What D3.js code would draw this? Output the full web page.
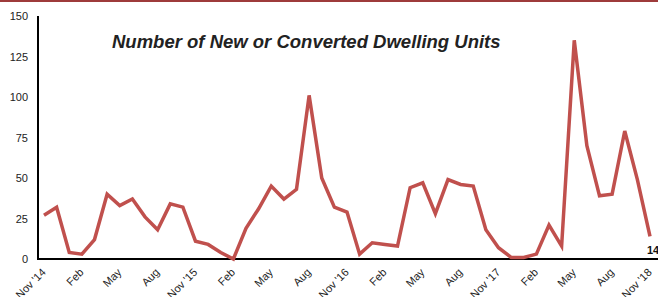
<!DOCTYPE html>
<html><head><meta charset="utf-8">
<script src="https://cdn.jsdelivr.net/npm/d3@7"></script>
<style>body{margin:0;background:#fff;}svg{display:block;font-family:"Liberation Sans",Arial,sans-serif;}</style>
</head><body>
<svg id="c" width="658" height="297"></svg>
<script>
const values = [27,32,4,3,12,40,33,37,26,18,34,32,
  11,9,4,0,19,31,45,37,43,101,50,32,
  29,3,10,9,8,44,47,28,49,46,45,18,
  7,1,1,3,21,8,135,70,39,40,79,49,
  14];
const tickLabels = ["Nov '14","Feb","May","Aug","Nov '15","Feb","May","Aug","Nov '16","Feb","May","Aug","Nov '17","Feb","May","Aug","Nov '18"];
const yTicks = [0,25,50,75,100,125,150];
const title = "Number of New or Converted Dwelling Units";

const svg = d3.select("#c");
const x = d3.scaleLinear().domain([0, values.length-1]).range([44, 650]);
const y = d3.scaleLinear().domain([0,150]).range([259, 16]);

svg.append("rect").attr("x",0).attr("y",0).attr("width",658).attr("height",2).attr("fill","#9e3b3b");

// y axis
const yAxis = svg.append("g").attr("transform","translate(38,0)")
  .call(d3.axisLeft(y).tickValues(yTicks).tickSize(0).tickPadding(10));
yAxis.select(".domain").attr("stroke","#000").attr("stroke-width",2).attr("d","M0,16V259");
yAxis.selectAll("text").attr("font-size",11).attr("fill","#222").attr("font-family","Liberation Sans, Arial, sans-serif");

// x axis
const tickIdx = tickLabels.map((d,i)=>i*3);
const xAxis = svg.append("g").attr("transform","translate(0,259)")
  .call(d3.axisBottom(x).tickValues(tickIdx).tickFormat((d,i)=>tickLabels[i]).tickSize(0).tickPadding(0));
xAxis.select(".domain").attr("stroke","#000").attr("stroke-width",2).attr("d","M37,0H658");
xAxis.selectAll("text").attr("font-size",11).attr("fill","#222")
  .attr("font-family","Liberation Sans, Arial, sans-serif")
  .attr("text-anchor","end").attr("x",0).attr("y",0).attr("dy",0)
  .attr("transform","translate(2,14) rotate(-45)");

// line
const line = d3.line().x((d,i)=>x(i)).y(d=>y(d));
svg.append("path").datum(values).attr("d",line).attr("fill","none")
  .attr("stroke","#c0504d").attr("stroke-width",3.5).attr("stroke-linejoin","miter");

// last label
svg.append("text").attr("x", x(values.length-1)-3).attr("y", y(values[values.length-1])+18)
  .attr("font-size",11).attr("font-weight","bold").attr("fill","#111").text(values[values.length-1]);

// title
svg.append("text").attr("x",112).attr("y",48).attr("font-size",18.5).attr("font-weight","bold")
  .attr("font-style","italic").attr("fill","#222").text(title);
</script>
</body></html>
